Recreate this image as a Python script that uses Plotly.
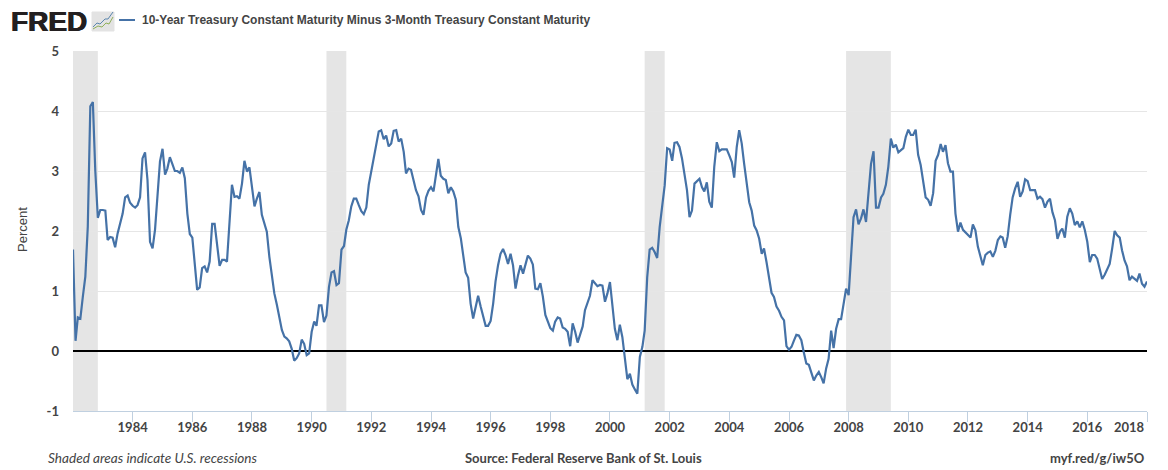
import plotly.graph_objects as go

W, H = 1168, 470
L, R, T, B = 73, 1147, 51, 411

series_name = "10-Year Treasury Constant Maturity Minus 3-Month Treasury Constant Maturity"
start_year = 1982
values = [
    1.69,.17,.56,.54,.90,1.24,2.07,4.08,4.15,3.0,2.22,2.35,
    2.35,2.34,1.85,1.90,1.89,1.73,1.96,2.13,2.29,2.56,2.59,2.47,
    2.42,2.39,2.43,2.56,3.21,3.31,2.85,1.82,1.71,2.02,2.68,3.16,
    3.37,2.94,3.04,3.23,3.12,3.0,3.0,2.97,3.06,2.88,2.29,1.95,
    1.89,1.46,1.02,1.06,1.38,1.41,1.31,1.49,2.12,2.12,1.77,1.42,
    1.52,1.52,1.49,2.24,2.77,2.57,2.58,2.54,2.79,3.17,2.99,3.06,
    2.71,2.41,2.54,2.65,2.27,2.13,1.99,1.57,1.24,.96,.77,.57,
    .35,.24,.21,.16,.04,-.16,-.12,-.04,.19,.12,-.07,-.04,
    .32,.49,.42,.76,.76,.48,.59,1.07,1.31,1.33,1.10,1.13,
    1.69,1.75,2.02,2.18,2.41,2.54,2.54,2.43,2.33,2.28,2.39,2.77,
    2.99,3.18,3.42,3.66,3.68,3.53,3.59,3.41,3.46,3.67,3.68,3.49,
    3.54,3.32,2.96,3.04,3.02,2.82,2.68,2.58,2.35,2.27,2.56,2.67,
    2.73,2.66,2.93,3.2,2.92,2.87,2.85,2.63,2.73,2.66,2.52,2.07,
    1.88,1.57,1.31,1.22,.79,.54,.74,.92,.74,.57,.42,.42,
    .5,.79,1.16,1.43,1.62,1.7,1.6,1.45,1.62,1.43,1.04,1.26,
    1.43,1.29,1.45,1.59,1.54,1.44,1.04,1.03,1.13,.91,.6,.49,
    .38,.34,.49,.56,.54,.39,.37,.32,.08,.46,.32,.14,
    .27,.41,.68,.82,.92,1.18,1.12,1.08,1.1,1.09,.82,.96,
    1.15,.68,.37,.18,.44,.23,-.13,-.47,-.38,-.56,-.64,-.71,
    -.1,.07,.34,1.23,1.69,1.72,1.65,1.55,2.07,2.4,2.76,3.38,
    3.36,3.17,3.47,3.48,3.4,3.21,2.96,2.68,2.23,2.34,2.79,2.83,
    2.87,2.73,2.66,2.81,2.49,2.39,3.07,3.48,3.33,3.36,3.36,3.36,
    3.26,3.15,2.89,3.4,3.68,3.46,3.12,2.79,2.48,2.34,2.09,2.01,
    1.87,1.62,1.71,1.48,1.23,.97,.9,.74,.67,.57,.51,.08,
    .02,.07,.17,.27,.26,.18,-.02,-.21,-.23,-.35,-.49,-.41,
    -.35,-.44,-.54,-.29,-.13,.34,.05,.37,.53,.53,.82,1.04,
    .93,1.62,2.23,2.36,2.11,2.21,2.36,2.15,2.62,3.12,3.33,2.39,
    2.39,2.56,2.62,2.77,3.07,3.54,3.39,3.44,3.31,3.34,3.38,3.57,
    3.69,3.6,3.6,3.69,3.27,3.1,2.82,2.56,2.52,2.42,2.63,3.17,
    3.27,3.45,3.32,3.43,3.13,2.99,2.99,2.29,1.99,2.14,2.02,1.98,
    1.93,1.89,2.11,2.01,1.74,1.56,1.43,1.6,1.64,1.66,1.57,1.67,
    1.85,1.91,1.89,1.72,1.91,2.27,2.56,2.71,2.82,2.57,2.66,2.86,
    2.83,2.68,2.68,2.68,2.54,2.57,2.53,2.39,2.49,2.54,2.31,2.18,
    1.87,1.99,2.04,1.89,2.24,2.38,2.29,2.1,2.16,2.06,2.16,2.02,
    1.82,1.48,1.6,1.6,1.54,1.38,1.2,1.27,1.35,1.45,1.71,2.0,
    1.93,1.89,1.68,1.51,1.41,1.18,1.24,1.21,1.17,1.29,1.12,1.07,
    1.16,
]
dates = [f"{start_year + i // 12}-{i % 12 + 1:02d}-01" for i in range(len(values))]

recession_starts = ["1982-01-01", "1990-07-01", "2001-03-01", "2007-12-01"]
recession_ends = ["1982-11-01", "1991-03-01", "2001-11-01", "2009-06-01"]
tick_years = list(range(1984, 2018, 2))
y_ticks = [-1, 0, 1, 2, 3, 4, 5]

FONT = "Lato, Liberation Sans, sans-serif"
TXT = "#444444"


def px(x):
    return (x - L) / (R - L)


def py(y):
    return (B - y) / (B - T)


fig = go.Figure()
fig.add_trace(go.Scatter(x=dates, y=values, mode="lines", name=series_name,
                         line=dict(color="#4572A7", width=2.2), showlegend=False,
                         hoverinfo="x+y"))

shapes = [dict(type="rect", xref="x", yref="paper", x0=a, x1=b, y0=0, y1=1,
               fillcolor="#E5E5E5", line_width=0, layer="between")
          for a, b in zip(recession_starts, recession_ends)]


def path_shape(pts, **kw):
    d = "M" + "L".join(f"{px(x):.5f},{py(y):.5f}" for x, y in pts)
    return dict(type="path", xref="paper", yref="paper", path=d, **kw)


# legend key and the small logo picture
shapes.append(dict(type="line", xref="paper", yref="paper", x0=px(119), x1=px(135),
                   y0=py(20), y1=py(20), line=dict(color="#4572A7", width=2)))
shapes.append(path_shape([(92, 12), (114, 12), (114, 31), (92, 31), (92, 12)],
                         fillcolor="#E3E3E3", line=dict(color="#E3E3E3", width=1)))
shapes.append(path_shape([(93, 27), (97, 23), (100, 24), (105, 19), (108, 19), (113, 12)],
                         line=dict(color="#5B86AE", width=1)))
shapes.append(path_shape([(93, 29), (98, 26), (102, 27), (106, 23), (109, 24), (113, 17)],
                         line=dict(color="#8FAF5A", width=1)))


def note(text, x, y, size, anchor="left", family=FONT):
    return dict(text=text, xref="paper", yref="paper", x=px(x), y=py(y), showarrow=False,
                xanchor=anchor, yanchor="middle",
                font=dict(family=family, size=size, color=TXT))


annotations = [
    dict(text="<b>FRED</b>", xref="paper", yref="paper", x=px(9), y=py(21), showarrow=False,
         xanchor="left", yanchor="middle",
         font=dict(family="Liberation Sans", size=28, color="#231F20",
                   shadow="0.6px 0 0 #231F20, -0.6px 0 0 #231F20")),
    note("<b>" + series_name + "</b>", 140, 20, 12, family="Liberation Sans"),
    note("<i>Shaded areas indicate U.S. recessions</i>", 46, 458, 13.6),
    note("<b>Source: Federal Reserve Bank of St. Louis</b>", 583, 458, 13, anchor="center"),
    note("<b>myf.red/g/iw5O</b>", 1147, 458, 13, anchor="right"),
    note("<b>2018</b>", 1147, 427, 13, anchor="right"),
    dict(text="Percent", xref="paper", yref="paper", x=px(22), y=py(230), showarrow=False,
         textangle=-90, xanchor="center", yanchor="middle",
         font=dict(family="Liberation Sans", size=13, color=TXT)),
]

fig.update_layout(
    width=W, height=H, margin=dict(l=L, r=W - R, t=T, b=H - B),
    paper_bgcolor="white", plot_bgcolor="white", showlegend=False,
    shapes=shapes, annotations=annotations,
    font=dict(family=FONT, color=TXT, size=13),
    xaxis=dict(type="date", range=["1982-01-01", "2018-01-01"],
               tickvals=[f"{y}-01-01" for y in tick_years] + ["2018-01-01"],
               ticktext=[f"<b>{y}</b>" for y in tick_years] + [""],
               ticks="outside", ticklen=10, tickwidth=1, tickcolor="#C0D0E0",
               ticklabelstandoff=-6,
               showline=True, linecolor="#C0D0E0", linewidth=1, showgrid=False,
               zeroline=False, tickfont=dict(size=13, color=TXT)),
    yaxis=dict(range=[-1, 5], tickvals=y_ticks,
               ticktext=[f"<b>{v}</b>" for v in y_ticks],
               showgrid=True, gridcolor="#E6E6E6", gridwidth=1, griddash="solid",
               zeroline=True, zerolinecolor="black", zerolinewidth=2,
               ticks="", ticklabelstandoff=13,
               tickfont=dict(size=13, color=TXT), showline=False),
)

fig.write_html("out.html", config={"displayModeBar": False},
               post_script="document.body.style.margin='0';")
